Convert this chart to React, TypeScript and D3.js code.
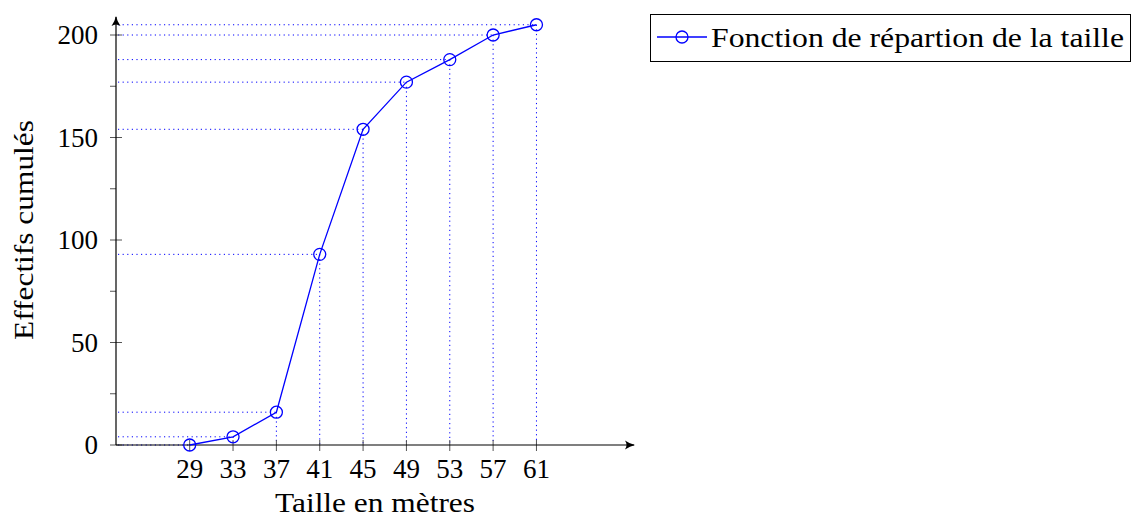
import React from 'react';
import * as d3 from 'd3';

const tailles = [29, 33, 37, 41, 45, 49, 53, 57, 61];
const effectifsCumules = [0, 4, 16, 93, 154, 177, 188, 200, 205];
const yMajorTicks = [0, 50, 100, 150, 200];
const yMinorTicks = [25, 75, 125, 175];
const legendLabel = 'Fonction de répartion de la taille';
const xLabel = 'Taille en mètres';
const yLabel = 'Effectifs cumulés';

const W = 1133;
const H = 518;
const FONT = '"Liberation Serif", "DejaVu Serif", serif';
const BLUE = '#0000ff';

export default function App() {
  // axis geometry
  const x = d3.scaleLinear().domain([22.2, 70]).range([116, 634]);
  const y = d3.scaleLinear().domain([0, 200]).range([445, 35]);
  const x0 = x(22.2);
  const y0 = y(0);
  const yTop = y(208.8);
  const xEnd = x(70);

  const points = tailles.map((t, i) => ({ t, v: effectifsCumules[i] }));
  const line = d3.line<{ t: number; v: number }>()
    .x(d => x(d.t))
    .y(d => y(d.v));

  const dots = '1.2,3.4';

  return (
    <svg width={W} height={H} style={{ position: 'absolute', left: 0, top: 0, background: 'white' }}
      fontFamily={FONT}>
      <defs>
        <marker id="arr" viewBox="0 0 10 10" refX="9" refY="5" markerWidth="10" markerHeight="10"
          markerUnits="userSpaceOnUse" orient="auto">
          <path d="M0,0.5 Q5,4 10,5 Q5,6 0,9.5 Q3,5 0,0.5 Z" fill="black" />
        </marker>
      </defs>

      {/* dotted guide lines */}
      {points.map((p, i) => (
        <g key={'g' + i}>
          <line x1={x0 + 2} x2={x(p.t)} y1={y(p.v)} y2={y(p.v)} stroke={BLUE}
            strokeWidth={1} strokeDasharray={dots} />
          <line x1={x(p.t)} x2={x(p.t)} y1={y(p.v)} y2={y0 - 1} stroke={BLUE}
            strokeWidth={1} strokeDasharray={dots} />
        </g>
      ))}

      {/* y ticks */}
      {yMajorTicks.map(v => (
        <g key={'ym' + v}>
          <line x1={x0 - 6} x2={x0 + 6} y1={y(v)} y2={y(v)} stroke="#555" strokeWidth={1} />
          <text x={98} y={y(v)} dy="0.35em" textAnchor="end" fontSize={27}>{v}</text>
        </g>
      ))}
      {yMinorTicks.map(v => (
        <line key={'yn' + v} x1={x0 - 6} x2={x0} y1={y(v)} y2={y(v)} stroke="#555" strokeWidth={1} />
      ))}

      {/* x ticks */}
      {tailles.map(t => (
        <g key={'xt' + t}>
          <line x1={x(t)} x2={x(t)} y1={y0 - 5} y2={y0 + 6} stroke="#555" strokeWidth={1} />
          <text x={x(t)} y={478} textAnchor="middle" fontSize={27}>{t}</text>
        </g>
      ))}

      {/* axes */}
      <line x1={x0} x2={x0} y1={y0} y2={yTop} stroke="black" strokeWidth={1.2} markerEnd="url(#arr)" />
      <line x1={x0} x2={xEnd} y1={y0} y2={y0} stroke="black" strokeWidth={1.2} markerEnd="url(#arr)" />

      {/* series */}
      <path d={line(points) || ''} fill="none" stroke={BLUE} strokeWidth={1.3} />
      {points.map((p, i) => (
        <circle key={'c' + i} cx={x(p.t)} cy={y(p.v)} r={6} fill="none" stroke={BLUE} strokeWidth={1.3} />
      ))}

      {/* axis labels */}
      <text x={375} y={512} textAnchor="middle" fontSize={27} textLength={200}
        lengthAdjust="spacingAndGlyphs">{xLabel}</text>
      <text transform={`translate(33,230) rotate(-90)`} textAnchor="middle" fontSize={27}
        textLength={220} lengthAdjust="spacingAndGlyphs">{yLabel}</text>

      {/* legend */}
      <rect x={650.5} y={14.5} width={480} height={47} fill="white" stroke="black" strokeWidth={1} />
      <line x1={657} x2={707} y1={37} y2={37} stroke={BLUE} strokeWidth={1.3} />
      <circle cx={682} cy={37} r={6} fill="none" stroke={BLUE} strokeWidth={1.3} />
      <text x={711} y={47} fontSize={27} textLength={413} lengthAdjust="spacingAndGlyphs">{legendLabel}</text>
    </svg>
  );
}
